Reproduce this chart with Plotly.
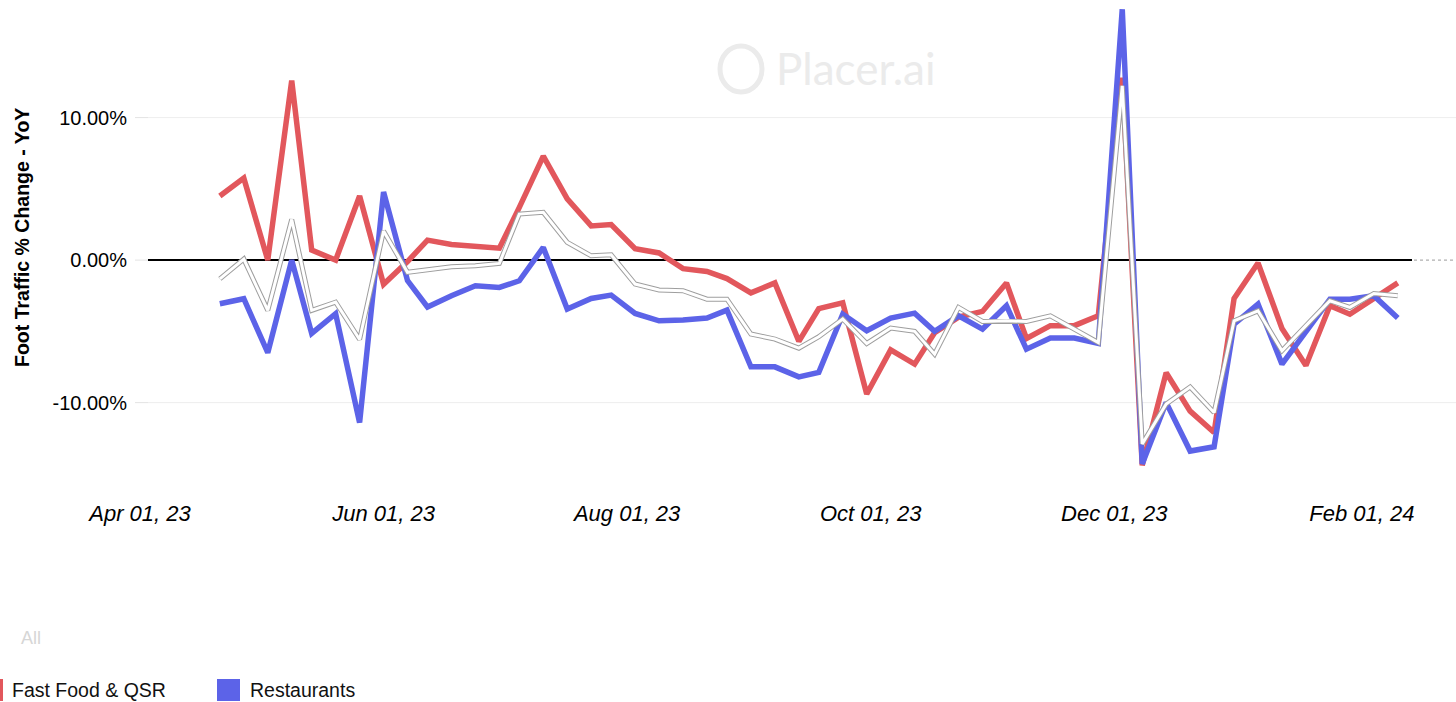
import plotly.graph_objects as go

# ---- data ----
weeks = [
    "2023-04-21", "2023-04-27", "2023-05-03", "2023-05-09", "2023-05-14", "2023-05-20",
    "2023-05-26", "2023-06-01", "2023-06-07", "2023-06-12", "2023-06-18", "2023-06-24",
    "2023-06-30", "2023-07-05", "2023-07-11", "2023-07-17", "2023-07-23", "2023-07-28",
    "2023-08-03", "2023-08-09", "2023-08-15", "2023-08-21", "2023-08-26", "2023-09-01",
    "2023-09-07", "2023-09-13", "2023-09-18", "2023-09-24", "2023-09-30", "2023-10-06",
    "2023-10-12", "2023-10-17", "2023-10-23", "2023-10-29", "2023-11-04", "2023-11-09",
    "2023-11-15", "2023-11-21", "2023-11-27", "2023-12-03", "2023-12-08", "2023-12-14",
    "2023-12-20", "2023-12-26", "2023-12-31", "2024-01-06", "2024-01-12", "2024-01-18",
    "2024-01-24", "2024-01-29", "2024-02-04", "2024-02-10",
]

fast_food_qsr = [
    4.5, 5.75, 0.0, 12.6, 0.7, 0.0, 4.5, -1.7, -0.1, 1.4, 1.1, 0.96,
    0.84, 3.7, 7.3, 4.3, 2.4, 2.5, 0.8, 0.5, -0.6, -0.8, -1.3, -2.3,
    -1.6, -5.7, -3.4, -3.0, -9.4, -6.3, -7.3, -5.1, -4.0, -3.6, -1.6, -5.5,
    -4.6, -4.6, -3.9, 12.8, -14.4, -7.9, -10.6, -12.1, -2.7, -0.2, -4.8, -7.4,
    -3.2, -3.8, -2.7, -1.6,
]

restaurants = [
    -3.06, -2.71, -6.5, 0.0, -5.15, -3.76, -11.4, 4.78, -1.44, -3.29, -2.5, -1.8,
    -1.92, -1.45, 0.89, -3.44, -2.69, -2.46, -3.74, -4.26, -4.21, -4.07, -3.51, -7.49,
    -7.49, -8.19, -7.88, -3.79, -4.96, -4.07, -3.72, -5.0, -3.91, -4.84, -3.2, -6.25,
    -5.47, -5.47, -5.85, 17.6, -14.3, -10.0, -13.4, -13.1, -4.49, -3.09, -7.3, -5.08,
    -2.74, -2.74, -2.5, -4.07,
]

all_categories = [
    -1.32, 0.07, -3.53, 2.85, -3.53, -2.95, -5.57, 2.04, -0.86, -0.7, -0.46, -0.4,
    -0.23, 3.23, 3.35, 1.24, 0.3, 0.37, -1.68, -2.1, -2.15, -2.74, -2.74, -5.19,
    -5.54, -6.18, -5.38, -4.14, -5.85, -4.77, -5.0, -6.6, -3.32, -4.3, -4.26, -4.3,
    -3.91, -4.84, -5.78, 12.23, -12.9, -10.1, -8.9, -10.7, -4.26, -3.56, -6.36, -4.6,
    -2.85, -3.32, -2.34, -2.5,
]

x_tick_dates = ["2023-04-01", "2023-06-01", "2023-08-01", "2023-10-01", "2023-12-01", "2024-02-01"]
y_tick_values = [-10, 0, 10]
y_tick_labels = ["-10.00%", "0.00%", "10.00%"]

RED = "#E2575C"
BLUE = "#5C63E8"

# ---- geometry helpers (pixel -> paper) ----
W, H = 1456, 702
ML, MR, MT, MB = 134, 0, 0, 222
PW, PH = W - ML - MR, H - MT - MB


def px(xp):
    return (xp - ML) / PW


def py(yp):
    return (MT + PH - yp) / PH


fig = go.Figure()
fig.add_trace(go.Scatter(x=weeks, y=fast_food_qsr, mode="lines", name="Fast Food & QSR",
                         line=dict(color=RED, width=5.5), hoverinfo="skip"))
fig.add_trace(go.Scatter(x=weeks, y=restaurants, mode="lines", name="Restaurants",
                         line=dict(color=BLUE, width=5.5), hoverinfo="skip"))
fig.add_trace(go.Scatter(x=weeks, y=all_categories, mode="lines", name="All",
                         line=dict(color="#9e9e9e", width=5), hoverinfo="skip"))
fig.add_trace(go.Scatter(x=weeks, y=all_categories, mode="lines", name="All",
                         line=dict(color="#ffffff", width=3), hoverinfo="skip"))

shapes = [
    # dotted zero reference line across the plot
    dict(type="line", xref="paper", yref="y", x0=px(148), x1=1, y0=0, y1=0,
         line=dict(color="#9a9a9a", width=1, dash="dot"), layer="below"),
    # black zero line
    dict(type="line", xref="paper", yref="y", x0=px(148), x1=px(1412), y0=0, y1=0,
         line=dict(color="#000000", width=2), layer="below"),
    # short y tick marks
    dict(type="line", xref="paper", yref="y", x0=px(135), x1=px(148), y0=10, y1=10,
         line=dict(color="#E3E3E3", width=1), layer="below"),
    dict(type="line", xref="paper", yref="y", x0=px(135), x1=px(148), y0=0, y1=0,
         line=dict(color="#E3E3E3", width=1), layer="below"),
    dict(type="line", xref="paper", yref="y", x0=px(135), x1=px(148), y0=-10, y1=-10,
         line=dict(color="#E3E3E3", width=1), layer="below"),
    # legend swatches
    dict(type="rect", xref="paper", yref="paper", x0=px(-20), x1=px(3), y0=py(701), y1=py(679),
         fillcolor=RED, line=dict(width=0)),
    dict(type="rect", xref="paper", yref="paper", x0=px(217), x1=px(240), y0=py(701), y1=py(679),
         fillcolor=BLUE, line=dict(width=0)),
    # watermark icon
    dict(type="circle", xref="paper", yref="paper", x0=px(720), x1=px(762), y0=py(92), y1=py(46),
         line=dict(color="#EBEBEB", width=5), layer="below"),
]

annotations = [
    dict(text="Placer.ai", xref="paper", yref="paper", x=px(774), y=py(68), xanchor="left",
         yanchor="middle", showarrow=False,
         font=dict(family="Lato, Liberation Sans, sans-serif", size=44, color="#EBEBEB")),
    dict(text="Foot Traffic % Change - YoY", xref="paper", yref="paper", x=px(22), y=py(238),
         xanchor="center", yanchor="middle", textangle=-90, showarrow=False,
         font=dict(family="Liberation Sans, Arial, sans-serif", size=19.5, color="#000000",
                   weight="bold")),
    dict(text="All", xref="paper", yref="paper", x=px(19), y=py(638), xanchor="left",
         yanchor="middle", showarrow=False,
         font=dict(family="Liberation Sans, Arial, sans-serif", size=18, color="#D6D6D6")),
    dict(text="Fast Food & QSR", xref="paper", yref="paper", x=px(10), y=py(690), xanchor="left",
         yanchor="middle", showarrow=False,
         font=dict(family="Liberation Sans, Arial, sans-serif", size=19.5, color="#111111")),
    dict(text="Restaurants", xref="paper", yref="paper", x=px(248), y=py(690), xanchor="left",
         yanchor="middle", showarrow=False,
         font=dict(family="Liberation Sans, Arial, sans-serif", size=19.5, color="#111111")),
]

fig.update_layout(
    width=W, height=H,
    margin=dict(l=ML, r=MR, t=MT, b=MB, pad=0),
    paper_bgcolor="#ffffff", plot_bgcolor="#ffffff",
    showlegend=False,
    shapes=shapes,
    annotations=annotations,
    xaxis=dict(
        type="date",
        range=["2023-03-30 12:00", "2024-02-24 14:00"],
        tickvals=x_tick_dates,
        tickformat="%b %d, %y",
        showgrid=False, zeroline=False, showline=False,
        ticks="", ticklabelstandoff=18,
        tickfont=dict(family="Liberation Sans, Arial, sans-serif", size=22, color="#000000",
                      style="italic"),
        fixedrange=True,
    ),
    yaxis=dict(
        range=[-15.43, 18.25],
        tickvals=y_tick_values,
        ticktext=y_tick_labels,
        showgrid=False,
        zeroline=False, showline=False,
        ticks="", ticklabelstandoff=6,
        tickfont=dict(family="Liberation Sans, Arial, sans-serif", size=20, color="#000000"),
        fixedrange=True,
    ),
)

# light horizontal gridlines at +/-10 %, starting where the reference grid starts
for v in (10, -10):
    fig.add_shape(type="line", xref="paper", yref="y", x0=px(148), x1=1, y0=v, y1=v,
                  line=dict(color="#EEEEEE", width=1), layer="below")

fig.write_html("out.html", config={"displayModeBar": False},
               post_script="document.body.style.margin='0';document.body.style.overflow='hidden';")
